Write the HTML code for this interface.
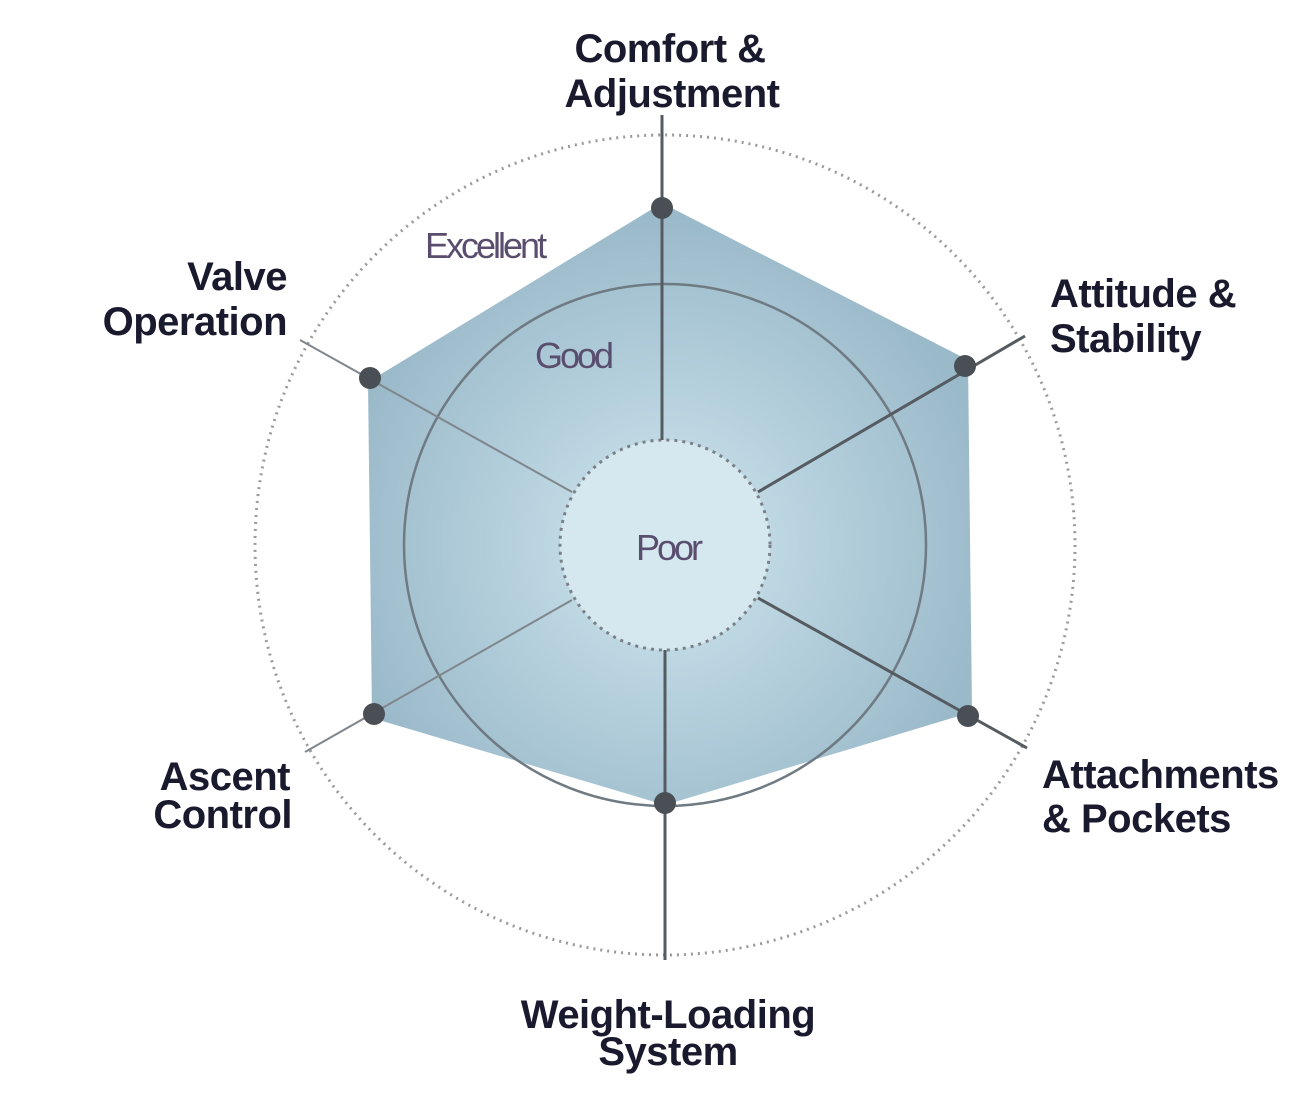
<!DOCTYPE html>
<html><head><style>
html,body{margin:0;padding:0;background:#fff;}
svg{display:block;}
text{font-family:"Liberation Sans",sans-serif;}
.lab{font-size:40px;fill:#1a1a2e;font-weight:bold;letter-spacing:-0.5px;}
.sc{font-size:36px;fill:#5a4e6e;letter-spacing:-3px;}
</style></head><body>
<svg width="1310" height="1105" viewBox="0 0 1310 1105" xmlns="http://www.w3.org/2000/svg">
<defs>
<radialGradient id="g" cx="665" cy="545" r="330" gradientUnits="userSpaceOnUse">
<stop offset="0" stop-color="#dcecf2"/>
<stop offset="0.35" stop-color="#bcd6e2"/>
<stop offset="1" stop-color="#9ab9c9"/>
</radialGradient>
</defs>
<circle cx="665" cy="545" r="410" fill="none" stroke="#9a9a9a" stroke-width="3" stroke-dasharray="2 5"/>
<polygon points="662,203 968,360 972,712 665,805 372,718 368,382" fill="url(#g)"/>
<circle cx="665" cy="545" r="261" fill="none" stroke="#6f7a82" stroke-width="2.5"/>
<circle cx="665" cy="545" r="105" fill="#d6e8ef" stroke="#7a8088" stroke-width="3" stroke-dasharray="3 5"/>
<g stroke="#555b60" stroke-width="3">
<line x1="662" y1="115" x2="662" y2="440"/>
<line x1="665" y1="650" x2="665" y2="960"/>
<line x1="758" y1="492" x2="1025" y2="336"/>
<line x1="758" y1="598" x2="1027" y2="748"/>
</g>
<g stroke="#7f868c" stroke-width="2">
<line x1="572" y1="492" x2="300" y2="340"/>
<line x1="572" y1="600" x2="305" y2="752"/>
</g>
<g fill="#4a4f55">
<circle cx="662" cy="208" r="11"/>
<circle cx="965" cy="366" r="11"/>
<circle cx="968" cy="716" r="11"/>
<circle cx="665" cy="803" r="11"/>
<circle cx="374" cy="714" r="11"/>
<circle cx="370" cy="378" r="11"/>
</g>
<text class="sc" x="425" y="258">Excellent</text>
<text class="sc" x="535" y="368">Good</text>
<text class="sc" x="636" y="560">Poor</text>
<g class="lab">
<text x="670" y="62" text-anchor="middle">Comfort &amp;</text>
<text x="672" y="107" text-anchor="middle">Adjustment</text>
<text x="1050" y="307">Attitude &amp;</text>
<text x="1050" y="352">Stability</text>
<text x="1042" y="788">Attachments</text>
<text x="1042" y="832">&amp; Pockets</text>
<text x="668" y="1028" text-anchor="middle">Weight-Loading</text>
<text x="668" y="1065" text-anchor="middle">System</text>
<text x="290" y="790" text-anchor="end">Ascent</text>
<text x="292" y="828" text-anchor="end">Control</text>
<text x="287" y="290" text-anchor="end">Valve</text>
<text x="287" y="335" text-anchor="end">Operation</text>
</g>
</svg>
</body></html>
